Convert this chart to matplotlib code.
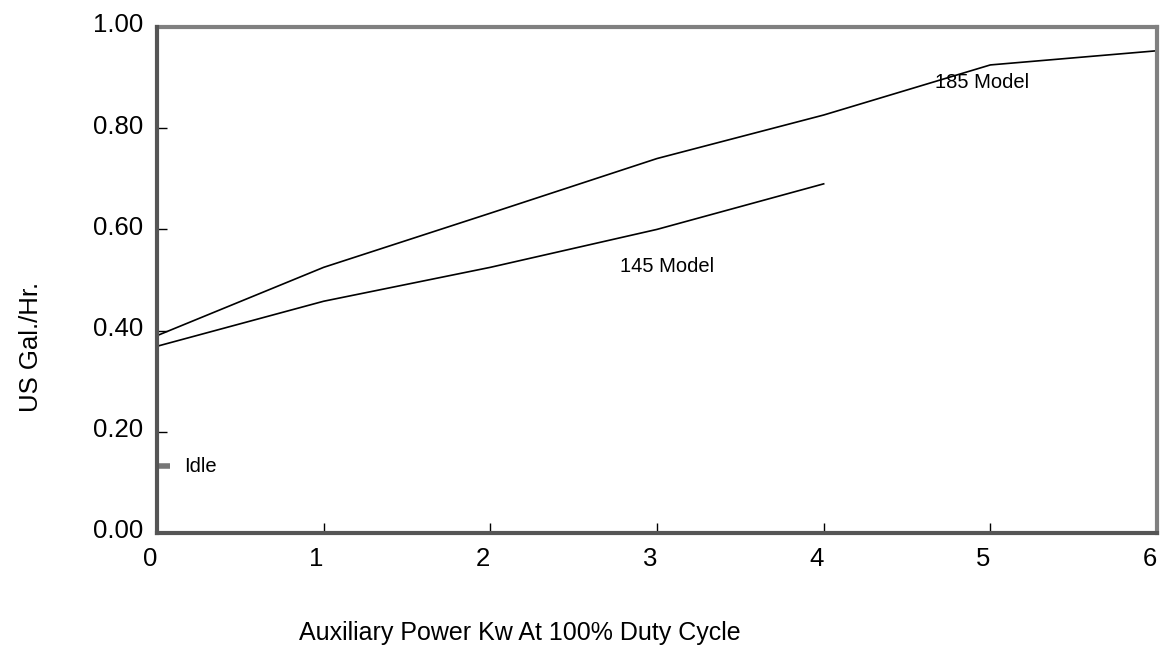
import numpy as np
import matplotlib.pyplot as plt
import matplotlib.transforms as mtransforms

plt.rcParams['font.family'] = ['Liberation Sans', 'DejaVu Sans']

# data
kw = [0, 1, 2, 3, 4, 5, 6]
model_185 = [0.39, 0.525, 0.632, 0.74, 0.826, 0.925, 0.953]
kw_145 = [0, 1, 2, 3, 4]
model_145 = [0.369, 0.458, 0.525, 0.60, 0.69]
idle_x = [0, 0.08]
idle_y = [0.132, 0.132]

x_ticks = [0, 1, 2, 3, 4, 5, 6]
y_ticks = [0.0, 0.2, 0.4, 0.6, 0.8, 1.0]
y_labels = ['0.00', '0.20', '0.40', '0.60', '0.80', '1.00']

fig = plt.figure(figsize=(11.62, 6.5), dpi=100)
ax = fig.add_axes([0.1351, 0.18, 0.8606, 0.7785])

ax.plot(kw, model_185, color='black', lw=1.2)
ax.plot(kw_145, model_145, color='black', lw=1.2)
ax.plot(idle_x, idle_y, color='#777777', lw=4, solid_capstyle='butt')

ax.text(4.67, 0.88, '185 Model', fontsize=14.5)
ax.text(2.78, 0.515, '145 Model', fontsize=14.5)
ax.text(0.16, 0.12, 'Idle', fontsize=14.5)

ax.set_xlim(0, 6)
ax.set_ylim(0, 1)
ax.set_xticks(x_ticks)
ax.set_yticks(y_ticks)
ax.set_yticklabels(y_labels)
ax.tick_params(direction='in', length=7, width=1, labelsize=18.5, color='black')
ax.tick_params(axis='x', pad=10)
ax.tick_params(axis='y', pad=10)

# labels sit a little left / up of their ticks
for lab in ax.get_xticklabels():
    lab.set_transform(lab.get_transform() + mtransforms.ScaledTranslation(-7/100, 0, fig.dpi_scale_trans))
for lab in ax.get_yticklabels():
    lab.set_transform(lab.get_transform() + mtransforms.ScaledTranslation(0, 4/100, fig.dpi_scale_trans))

for side in ['top', 'right']:
    ax.spines[side].set_color('#808080')
    ax.spines[side].set_linewidth(3)
for side in ['left', 'bottom']:
    ax.spines[side].set_color('#555555')
    ax.spines[side].set_linewidth(3)
    ax.spines[side].set_zorder(3)

fig.text(0.027, 0.466, 'US Gal./Hr.', rotation=90, fontsize=18.5, ha='center', va='center')
fig.text(0.4475, 0.026, 'Auxiliary Power Kw At 100% Duty Cycle', fontsize=18, ha='center', va='center')

fig.savefig('out.png', dpi=100)
